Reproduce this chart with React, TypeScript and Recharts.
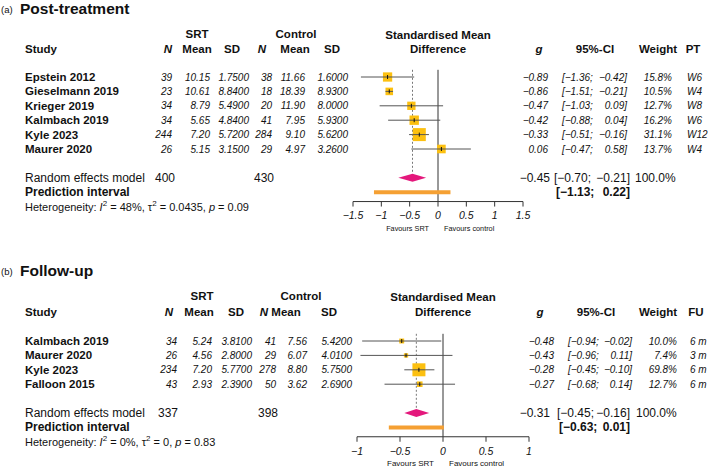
import { ComposedChart, ReferenceArea, ReferenceLine, Scatter, XAxis, YAxis } from 'recharts'

const FONT = '"Liberation Sans", Arial, Helvetica, sans-serif'

// (a) Post-treatment
const studiesA = ['Epstein 2012', 'Gieselmann 2019', 'Krieger 2019', 'Kalmbach 2019', 'Kyle 2023', 'Maurer 2020']
const srtNA = [39, 23, 34, 34, 244, 26]
const srtMeanA = [10.15, 10.61, 8.79, 5.65, 7.2, 5.15]
const srtSdA = [1.75, 8.84, 5.49, 4.84, 5.72, 3.15]
const ctlNA = [38, 18, 20, 41, 284, 29]
const ctlMeanA = [11.66, 18.39, 11.9, 7.95, 9.1, 4.97]
const ctlSdA = [1.6, 8.93, 8.0, 5.93, 5.62, 3.26]
const gA = [-0.89, -0.86, -0.47, -0.42, -0.33, 0.06]
const loA = [-1.36, -1.51, -1.03, -0.88, -0.51, -0.47]
const hiA = [-0.42, -0.21, 0.09, 0.04, -0.16, 0.58]
const weightA = [15.8, 10.5, 12.7, 16.2, 31.1, 13.7]
const ptA = ['W6', 'W4', 'W8', 'W6', 'W12', 'W4']
const summaryA = [-0.45, -0.7, -0.21]
const predA = [-1.13, 0.22]
const totalsA = [400, 430]
const hetA = ['48%', '0.0435', '0.09']
const ticksA = [-1.5, -1, -0.5, 0, 0.5, 1, 1.5]

// (b) Follow-up
const studiesB = ['Kalmbach 2019', 'Maurer 2020', 'Kyle 2023', 'Falloon 2015']
const srtNB = [34, 26, 234, 43]
const srtMeanB = [5.24, 4.56, 7.2, 2.93]
const srtSdB = [3.81, 2.8, 5.77, 2.39]
const ctlNB = [41, 29, 278, 50]
const ctlMeanB = [7.56, 6.07, 8.8, 3.62]
const ctlSdB = [5.42, 4.01, 5.75, 2.69]
const gB = [-0.48, -0.43, -0.28, -0.27]
const loB = [-0.94, -0.96, -0.45, -0.68]
const hiB = [-0.02, 0.11, -0.1, 0.14]
const weightB = [10.0, 7.4, 69.8, 12.7]
const fuB = ['6 m', '3 m', '6 m', '6 m']
const summaryB = [-0.31, -0.45, -0.16]
const predB = [-0.63, 0.01]
const totalsB = [337, 398]
const hetB = ['0%', '0', '0.83']
const ticksB = [-1, -0.5, 0, 0.5, 1]

const panelA = {
  tag: '(a)', title: 'Post-treatment', lastHead: 'PT',
  studies: studiesA, srtN: srtNA, srtMean: srtMeanA, srtSd: srtSdA, ctlN: ctlNA, ctlMean: ctlMeanA, ctlSd: ctlSdA,
  g: gA, lo: loA, hi: hiA, weight: weightA, last: ptA, sum: summaryA, pred: predA, totals: totalsA, het: hetA,
  ticks: ticksA,
  L: {
    titleY: 8, head1: 34, head2: 49, rowY0: 77, step: 14.4,
    hN: 168, hMean: 197, hSd: 232, hCN: 262, hCMean: 295, hCSd: 332, hSRT: 197, hCtl: 296,
    cN: 172, cMean: 210, cSd: 249, cCN: 272, cCMean: 305, cCSd: 348,
    hG: 539, hCI: 595, hW: 658, hLast: 693,
    gEnd: 548, ciStart: 562, ciEnd: 627, wEnd: 672, lastStart: 687,
    sumG: 550, sumCiStart: 554, sumCiEnd: 630, sumW: 635,
    totN: 175, totCN: 274,
    plotLeft: 353, plotRight: 523, tickMargin: 5, favY: 228, favSize: 7.3,
  },
}

const panelB = {
  tag: '(b)', title: 'Follow-up', lastHead: 'FU',
  studies: studiesB, srtN: srtNB, srtMean: srtMeanB, srtSd: srtSdB, ctlN: ctlNB, ctlMean: ctlMeanB, ctlSd: ctlSdB,
  g: gB, lo: loB, hi: hiB, weight: weightB, last: fuB, sum: summaryB, pred: predB, totals: totalsB, het: hetB,
  ticks: ticksB,
  L: {
    titleY: 270, head1: 296, head2: 312, rowY0: 341, step: 14.4,
    hN: 169, hMean: 199, hSd: 236, hCN: 264, hCMean: 286, hCSd: 329, hSRT: 202, hCtl: 301,
    cN: 177, cMean: 212, cSd: 252, cCN: 276, cCMean: 307, cCSd: 352,
    hG: 540, hCI: 596, hW: 658, hLast: 696,
    gEnd: 554, ciStart: 568, ciEnd: 632, wEnd: 677, lastStart: 690,
    sumG: 550, sumCiStart: 557, sumCiEnd: 630, sumW: 636,
    totN: 178, totCN: 278,
    plotLeft: 357, plotRight: 529, tickMargin: 6, favY: 463, favSize: 8,
  },
}

type PanelCfg = typeof panelA

const minus = (s: string) => s.replace('-', '−')
const f2 = (v: number) => minus(v.toFixed(2))
const fTick = (v: number) => minus(String(v))

function T({ x, y, a = 'start', s = 10, i = false, b = false, children }: any) {
  return (
    <text x={x} y={y} textAnchor={a} dominantBaseline="central" fontSize={s}
      fontStyle={i ? 'italic' : 'normal'} fontWeight={b ? 700 : 400} fill="#111" fontFamily={FONT}>
      {children}
    </text>
  )
}

function TableText({ p }: { p: PanelCfg }) {
  const L = p.L
  const n = p.studies.length
  const ry = (r: number) => L.rowY0 + (r - 1) * L.step
  const zeroX = L.plotLeft + (L.plotRight - L.plotLeft) * (0 - p.ticks[0]) / (p.ticks[p.ticks.length - 1] - p.ticks[0])
  const sumY = ry(n + 2)
  const predY = ry(n + 3)
  const hetY = ry(n + 4)
  return (
    <g>
      <T x={1} y={L.titleY + 1} s={9.5}>{p.tag}</T>
      <T x={20} y={L.titleY} s={15.5} b>{p.title}</T>

      <T x={L.hSRT} y={L.head1} a="middle" s={11.5} b>SRT</T>
      <T x={L.hCtl} y={L.head1} a="middle" s={11.5} b>Control</T>
      <T x={25} y={L.head2} s={11.5} b>Study</T>
      <T x={L.hN} y={L.head2} a="middle" s={11.5} b i>N</T>
      <T x={L.hMean} y={L.head2} a="middle" s={11.5} b>Mean</T>
      <T x={L.hSd} y={L.head2} a="middle" s={11.5} b>SD</T>
      <T x={L.hCN} y={L.head2} a="middle" s={11.5} b i>N</T>
      <T x={L.hCMean} y={L.head2} a="middle" s={11.5} b>Mean</T>
      <T x={L.hCSd} y={L.head2} a="middle" s={11.5} b>SD</T>
      <T x={zeroX} y={L.head1 + 1} a="middle" s={11.5} b>Standardised Mean</T>
      <T x={zeroX} y={L.head2} a="middle" s={11.5} b>Difference</T>
      <T x={L.hG} y={L.head2} a="middle" s={11.5} b i>g</T>
      <T x={L.hCI} y={L.head2} a="middle" s={11.5} b>95%-CI</T>
      <T x={L.hW} y={L.head2} a="middle" s={11.5} b>Weight</T>
      <T x={L.hLast} y={L.head2} a="middle" s={11.5} b>{p.lastHead}</T>

      {p.studies.map((st, i) => {
        const y = ry(i + 1)
        return (
          <g key={st}>
            <T x={25} y={y} s={11.5} b>{st}</T>
            <T x={L.cN} y={y} a="end" i>{p.srtN[i]}</T>
            <T x={L.cMean} y={y} a="end" i>{p.srtMean[i].toFixed(2)}</T>
            <T x={L.cSd} y={y} a="end" i>{p.srtSd[i].toFixed(4)}</T>
            <T x={L.cCN} y={y} a="end" i>{p.ctlN[i]}</T>
            <T x={L.cCMean} y={y} a="end" i>{p.ctlMean[i].toFixed(2)}</T>
            <T x={L.cCSd} y={y} a="end" i>{p.ctlSd[i].toFixed(4)}</T>
            <T x={L.gEnd} y={y} a="end" i>{f2(p.g[i])}</T>
            <T x={L.ciStart} y={y} i>{`[${f2(p.lo[i])};`}</T>
            <T x={L.ciEnd} y={y} a="end" i>{`${f2(p.hi[i])}]`}</T>
            <T x={L.wEnd} y={y} a="end" i>{`${p.weight[i].toFixed(1)}%`}</T>
            <T x={L.lastStart} y={y} i>{p.last[i]}</T>
          </g>
        )
      })}

      <T x={25} y={sumY} s={12}>Random effects model</T>
      <T x={L.totN} y={sumY} a="end" s={12}>{p.totals[0]}</T>
      <T x={L.totCN} y={sumY} a="end" s={12}>{p.totals[1]}</T>
      <T x={L.sumG} y={sumY} a="end" s={12}>{f2(p.sum[0])}</T>
      <T x={L.sumCiStart} y={sumY} s={12}>{`[${f2(p.sum[1])};`}</T>
      <T x={L.sumCiEnd} y={sumY} a="end" s={12}>{`${f2(p.sum[2])}]`}</T>
      <T x={L.sumW} y={sumY} s={12}>100.0%</T>

      <T x={25} y={predY} s={12} b>Prediction interval</T>
      <T x={L.sumCiStart + 2} y={predY} s={12} b>{`[${f2(p.pred[0])};`}</T>
      <T x={L.sumCiEnd} y={predY} a="end" s={12} b>{`${f2(p.pred[1])}]`}</T>

      <text x={25} y={hetY} dominantBaseline="central" fontSize={11} fill="#111" fontFamily={FONT}>
        Heterogeneity: <tspan fontStyle="italic">I</tspan>
        <tspan dy={-4} fontSize={8}>2</tspan>
        <tspan dy={4}>{` = ${p.het[0]}, τ`}</tspan>
        <tspan dy={-4} fontSize={8}>2</tspan>
        <tspan dy={4}>{` = ${p.het[1]}, `}</tspan>
        <tspan fontStyle="italic">p</tspan>
        <tspan>{` = ${p.het[2]}`}</tspan>
      </text>

      <T x={zeroX - 9} y={L.favY} a="end" s={L.favSize}>Favours SRT</T>
      <T x={zeroX + 6} y={L.favY} s={L.favSize}>Favours control</T>
    </g>
  )
}

const renderTick = (props: any) => (
  <text x={props.x} y={props.y} dy="0.71em" textAnchor="middle" fontSize={10.5}
    fontStyle="italic" fill="#111" fontFamily={FONT}>
    {fTick(props.payload.value)}
  </text>
)

function ForestChart({ p }: { p: PanelCfg }) {
  const L = p.L
  const n = p.studies.length
  const sumRow = n + 2
  const predRow = n + 3
  const axisIdx = n + 3.65
  const plotTop = L.rowY0 - 0.5 * L.step
  const plotBottom = L.rowY0 + (axisIdx - 1) * L.step
  const maxW = Math.max(...p.weight)
  const rows = p.g.map((g, i) => ({ x: g, y: i + 1, w: p.weight[i] }))
  const [sg, slo, shi] = p.sum

  const square = (props: any) => {
    const { cx, cy, payload } = props
    const side = 13 * Math.sqrt(payload.w / maxW)
    return (
      <g>
        <rect x={cx - side / 2} y={cy - side / 2} width={side} height={side} fill="#FCC010" />
        <line x1={cx - side / 2} x2={cx + side / 2} y1={cy} y2={cy} stroke="#555" />
        <line x1={cx} x2={cx} y1={cy - 2} y2={cy + 2} stroke="#111" />
      </g>
    )
  }

  const diamond = (props: any) => {
    const { x, y, width, height } = props
    const cx = x + width * (sg - slo) / (shi - slo)
    const cy = y + height / 2
    return (
      <path d={`M${x},${cy}L${cx},${y}L${x + width},${cy}L${cx},${y + height}Z`} fill="#E4187C" />
    )
  }

  return (
    <div style={{ position: 'absolute', left: 0, top: 0 }}>
      <ComposedChart width={709} height={469}
        margin={{ top: plotTop, left: L.plotLeft, right: 709 - L.plotRight, bottom: 469 - plotBottom - 25 }}>
        <XAxis type="number" dataKey="x" domain={[p.ticks[0], p.ticks[p.ticks.length - 1]]} ticks={p.ticks}
          interval={0} allowDataOverflow height={25} stroke="#333" tickSize={5} tickMargin={L.tickMargin} tick={renderTick} />
        <YAxis type="number" dataKey="y" domain={[0.5, axisIdx]} reversed hide />
        <ReferenceLine x={0} stroke="#333" />
        <ReferenceLine segment={[{ x: sg, y: 0.5 }, { x: sg, y: sumRow - 0.3 }]} stroke="#777" strokeDasharray="2 2" />
        {rows.map((r, i) => (
          <ReferenceLine key={i} segment={[{ x: p.lo[i], y: r.y }, { x: p.hi[i], y: r.y }]} stroke="#555" />
        ))}
        <Scatter data={rows} dataKey="y" shape={square} isAnimationActive={false} />
        <ReferenceArea x1={slo} x2={shi} y1={sumRow - 0.28} y2={sumRow + 0.28} shape={diamond} />
        <ReferenceLine segment={[{ x: p.pred[0], y: predRow }, { x: p.pred[1], y: predRow }]} stroke="#F5A033" strokeWidth={4} />
      </ComposedChart>
    </div>
  )
}

export default function App() {
  return (
    <div style={{ position: 'absolute', left: 0, top: 0, width: 709, height: 469, background: '#fff', overflow: 'hidden', fontFamily: FONT }}>
      <ForestChart p={panelA} />
      <ForestChart p={panelB} />
      <svg width={709} height={469} style={{ position: 'absolute', left: 0, top: 0, pointerEvents: 'none' }}>
        <TableText p={panelA} />
        <TableText p={panelB} />
      </svg>
    </div>
  )
}
